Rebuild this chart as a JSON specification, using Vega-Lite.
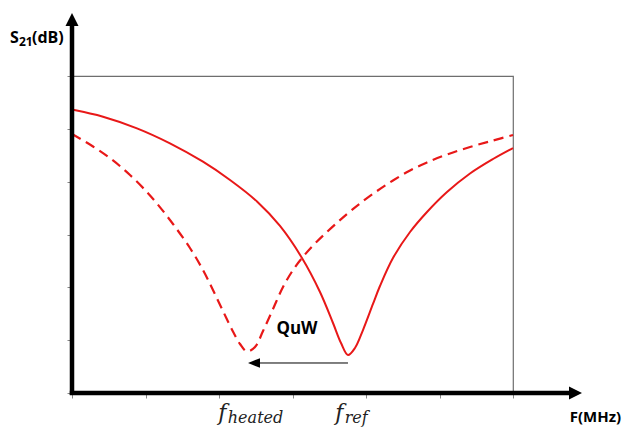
{
  "$schema": "https://vega.github.io/schema/vega-lite/v6.json",
  "width": 441,
  "height": 317,
  "autosize": "none",
  "padding": {"left": 72, "top": 76, "right": 113, "bottom": 35},
  "background": "white",
  "config": {"view": {"stroke": "#6e6e6e", "strokeWidth": 1.2}},
  "datasets": {
    "solid": [
      {"x": 0, "y": 5.366}, {"x": 0.422, "y": 5.23}, {"x": 0.884, "y": 5.01}, {"x": 1.333, "y": 4.726},
      {"x": 1.782, "y": 4.378}, {"x": 2.15, "y": 4.032}, {"x": 2.517, "y": 3.625}, {"x": 2.83, "y": 3.161},
      {"x": 3.129, "y": 2.555}, {"x": 3.374, "y": 1.912}, {"x": 3.551, "y": 1.325}, {"x": 3.66, "y": 0.946},
      {"x": 3.755, "y": 0.719}, {"x": 3.85, "y": 0.852}, {"x": 3.959, "y": 1.192}, {"x": 4.095, "y": 1.685},
      {"x": 4.19, "y": 2.025}, {"x": 4.367, "y": 2.555}, {"x": 4.599, "y": 3.047}, {"x": 4.83, "y": 3.426},
      {"x": 5.102, "y": 3.804}, {"x": 5.415, "y": 4.155}, {"x": 5.728, "y": 4.429}, {"x": 6.0, "y": 4.637}
    ],
    "dashed": [
      {"x": 0, "y": 4.902}, {"x": 0.286, "y": 4.666}, {"x": 0.558, "y": 4.401}, {"x": 0.789, "y": 4.126},
      {"x": 1.02, "y": 3.804}, {"x": 1.156, "y": 3.587}, {"x": 1.374, "y": 3.199}, {"x": 1.605, "y": 2.744},
      {"x": 1.782, "y": 2.328}, {"x": 1.918, "y": 1.95}, {"x": 2.054, "y": 1.552}, {"x": 2.19, "y": 1.164},
      {"x": 2.286, "y": 0.927}, {"x": 2.381, "y": 0.785}, {"x": 2.49, "y": 0.871}, {"x": 2.599, "y": 1.174},
      {"x": 2.735, "y": 1.59}, {"x": 2.871, "y": 2.006}, {"x": 3.007, "y": 2.328}, {"x": 3.129, "y": 2.555},
      {"x": 3.333, "y": 2.868}, {"x": 3.741, "y": 3.388}, {"x": 3.918, "y": 3.587}, {"x": 4.15, "y": 3.823},
      {"x": 4.367, "y": 4.022}, {"x": 4.599, "y": 4.211}, {"x": 4.83, "y": 4.363}, {"x": 5.102, "y": 4.514},
      {"x": 5.415, "y": 4.656}, {"x": 5.728, "y": 4.779}, {"x": 6.0, "y": 4.883}
    ],
    "axes": [
      {"x": 0, "y": -0.04, "x2": 0, "y2": 7.0},
      {"x": -0.03, "y": 0, "x2": 6.82, "y2": 0}
    ],
    "upHead": [{"x": 0, "y": 7.069}],
    "rightHead": [{"x": 6.85, "y": 0}],
    "shift": [{"x": 3.755, "y": 0.568, "x2": 2.52, "y2": 0.568}],
    "shiftHead": [{"x": 2.476, "y": 0.568}],
    "boldBig": [{"x": -0.844, "y": 6.625, "label": "S"}, {"x": -0.544, "y": 6.625, "label": "(dB)"}],
    "boldSub": [{"x": -0.721, "y": 6.568, "label": "21"}],
    "xTitle": [{"x": 7.47, "y": -0.55, "label": "F(MHz)"}],
    "quw": [{"x": 3.061, "y": 1.117, "label": "QuW"}],
    "fMain": [{"x": 1.99, "y": -0.511, "label": "f"}, {"x": 3.58, "y": -0.511, "label": "f"}],
    "fSub": [{"x": 2.12, "y": -0.568, "label": "heated"}, {"x": 3.71, "y": -0.568, "label": "ref"}]
  },
  "encoding": {
    "x": {"field": "x", "type": "quantitative",
      "scale": {"domain": [0, 6], "nice": false, "zero": false},
      "axis": {"values": [0, 1, 2, 3, 4, 5, 6], "labels": false, "domain": false, "grid": false, "ticks": true, "tickColor": "#888888", "tickSize": 5, "tickWidth": 1, "title": null}},
    "y": {"field": "y", "type": "quantitative",
      "scale": {"domain": [0, 6], "nice": false, "zero": false},
      "axis": {"values": [0, 1, 2, 3, 4, 5, 6], "labels": false, "domain": false, "grid": false, "ticks": true, "tickColor": "#888888", "tickSize": 5, "tickWidth": 1, "title": null}}
  },
  "layer": [
    {"data": {"name": "solid"}, "mark": {"type": "line", "color": "#e81818", "strokeWidth": 2, "interpolate": "catmull-rom"}},
    {"data": {"name": "dashed"}, "mark": {"type": "line", "color": "#e81818", "strokeWidth": 2.2, "strokeDash": [10, 6], "interpolate": "catmull-rom"}},
    {"data": {"name": "shift"}, "mark": {"type": "rule", "color": "black", "strokeWidth": 1},
      "encoding": {"x2": {"field": "x2"}, "y2": {"field": "y2"}}},
    {"data": {"name": "shiftHead"}, "mark": {"type": "point", "shape": "M-1,0L1,-0.8L1,0.8Z", "size": 144, "filled": true, "color": "black", "opacity": 1}},
    {"data": {"name": "axes"}, "mark": {"type": "rule", "color": "black", "strokeWidth": 4.5},
      "encoding": {"x2": {"field": "x2"}, "y2": {"field": "y2"}}},
    {"data": {"name": "upHead"}, "mark": {"type": "point", "shape": "M0,-1L1,1L-1,1Z", "size": 169, "filled": true, "color": "black", "opacity": 1}},
    {"data": {"name": "rightHead"}, "mark": {"type": "point", "shape": "M1,0L-1,-1L-1,1Z", "size": 169, "filled": true, "color": "black", "opacity": 1}},
    {"data": {"name": "boldBig"}, "mark": {"type": "text", "font": "Open Sans", "fontWeight": "bold", "fontSize": 16, "align": "left", "baseline": "alphabetic", "color": "black"},
      "encoding": {"text": {"field": "label"}}},
    {"data": {"name": "boldSub"}, "mark": {"type": "text", "font": "Open Sans", "fontWeight": "bold", "fontSize": 12, "align": "left", "baseline": "alphabetic", "color": "black"},
      "encoding": {"text": {"field": "label"}}},
    {"data": {"name": "xTitle"}, "mark": {"type": "text", "font": "Open Sans", "fontWeight": "bold", "fontSize": 15, "align": "right", "baseline": "alphabetic", "color": "black"},
      "encoding": {"text": {"field": "label"}}},
    {"data": {"name": "quw"}, "mark": {"type": "text", "font": "Open Sans", "fontWeight": "bold", "fontSize": 17, "align": "center", "baseline": "alphabetic", "color": "black"},
      "encoding": {"text": {"field": "label"}}},
    {"data": {"name": "fMain"}, "mark": {"type": "text", "font": "DejaVu Serif", "fontStyle": "italic", "fontSize": 22, "align": "left", "baseline": "alphabetic", "color": "#222222"},
      "encoding": {"text": {"field": "label"}}},
    {"data": {"name": "fSub"}, "mark": {"type": "text", "font": "DejaVu Serif", "fontStyle": "italic", "fontSize": 16, "align": "left", "baseline": "alphabetic", "color": "#222222"},
      "encoding": {"text": {"field": "label"}}}
  ]
}
